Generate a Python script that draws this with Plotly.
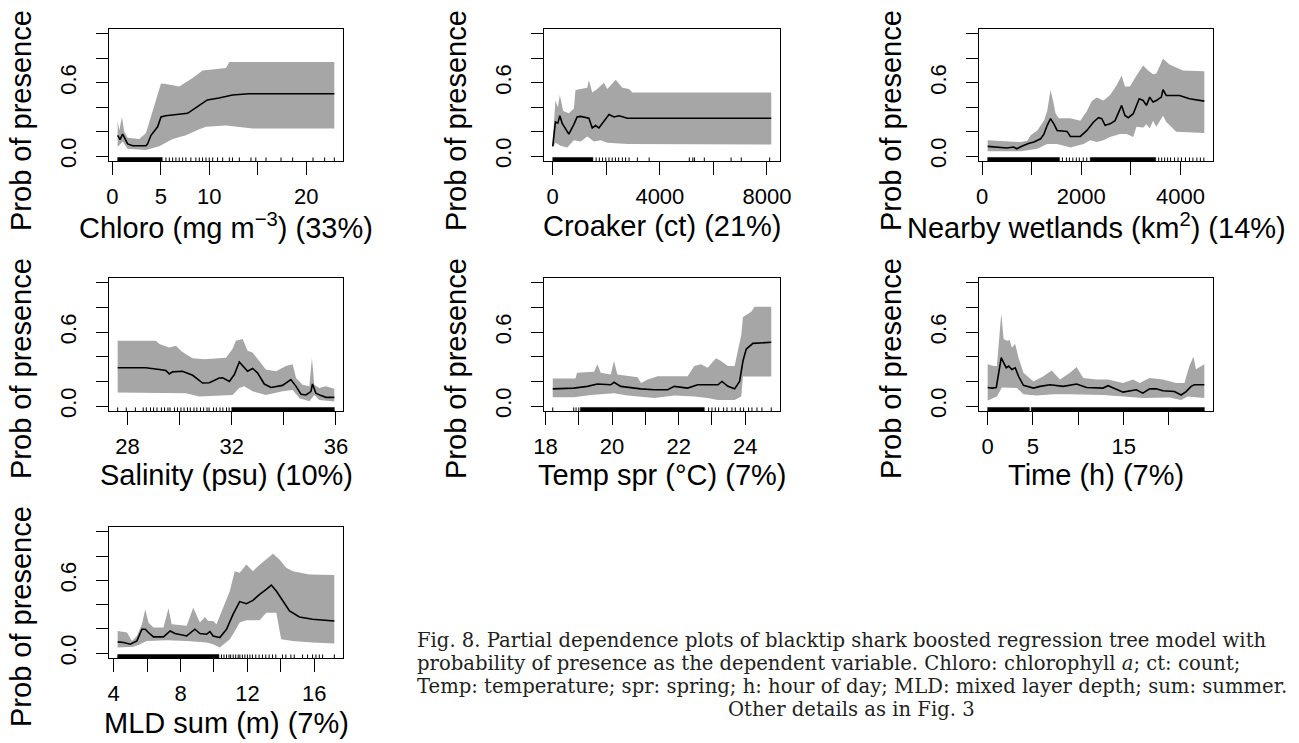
import plotly.graph_objects as go

# ---------------- data ----------------
# Chloro (mg m-3)
chloro_x = [0.55, 0.79, 1.06, 1.58, 2.1, 3.47, 3.64, 3.99, 4.67, 5.02, 5.5, 6.4, 7.76, 8.97, 9.8, 11.0, 12.4, 14.1, 22.9]
chloro_y = [0.17, 0.135, 0.18, 0.10, 0.085, 0.085, 0.10, 0.17, 0.24, 0.32, 0.33, 0.34, 0.35, 0.415, 0.46, 0.475, 0.50, 0.51, 0.51]
chloro_up_x = [0.55, 0.72, 0.99, 1.23, 1.58, 2.78, 3.47, 4.15, 5.02, 5.53, 6.9, 8.28, 9.31, 11.72, 12.07, 22.9]
chloro_up = [0.29, 0.21, 0.32, 0.20, 0.15, 0.14, 0.19, 0.36, 0.595, 0.59, 0.57, 0.64, 0.70, 0.72, 0.77, 0.77]
chloro_lo_x = [0.55, 1.06, 1.58, 3.47, 4.84, 6.22, 7.59, 8.97, 9.66, 11.72, 13.1, 14.5, 22.9]
chloro_lo = [0.074, 0.12, 0.06, 0.05, 0.08, 0.14, 0.17, 0.22, 0.24, 0.25, 0.24, 0.225, 0.225]
chloro_rug_bands = [(0.55, 5.15)]
chloro_rug = [5.53, 5.88, 6.22, 6.56, 6.9, 7.25, 7.59, 8.1, 8.62, 8.97, 9.31, 9.66, 10.0, 10.35,
              10.86, 11.38, 12.07, 12.4, 13.1, 14.3, 14.8, 15.85, 17.4, 18.6, 20.7, 21.9, 22.9]

# Croaker (ct)
croaker_x = [0, 100, 190, 265, 350, 600, 790, 910, 1040, 1350, 1475, 1600, 1725, 1910, 2100, 2290, 2475, 2790, 2975, 8160]
croaker_y = [0.08, 0.28, 0.27, 0.33, 0.27, 0.18, 0.26, 0.32, 0.325, 0.31, 0.23, 0.25, 0.23, 0.28, 0.34, 0.32, 0.33, 0.31, 0.31, 0.31]
croaker_up_x = [0, 100, 190, 265, 390, 600, 790, 850, 1290, 1350, 1475, 1662, 1912, 2037, 2350, 2600, 2850, 2975, 8160]
croaker_up = [0.13, 0.455, 0.40, 0.50, 0.37, 0.35, 0.39, 0.54, 0.56, 0.62, 0.52, 0.55, 0.60, 0.55, 0.625, 0.56, 0.55, 0.52, 0.52]
croaker_lo_x = [0, 100, 290, 540, 790, 1040, 1290, 1540, 1790, 2040, 2790, 8160]
croaker_lo = [0.07, 0.11, 0.085, 0.07, 0.13, 0.12, 0.16, 0.12, 0.13, 0.11, 0.10, 0.095]
croaker_rug_bands = [(0, 1500)]
croaker_rug = [1620, 1740, 1860, 1980, 2100, 2220, 2340, 2460, 2600, 2720, 2850, 3160, 3600,
               5100, 5230, 5290, 5660, 6660, 7040, 8100]

# Nearby wetlands (km2)
wet_x = [113, 237, 500, 633, 700, 800, 947, 1047, 1180, 1247, 1313, 1380, 1447, 1513, 1647, 1713, 1780, 1980, 2113, 2247,
         2347, 2413, 2480, 2580, 2680, 2780, 2813, 2880, 2947, 3047, 3113, 3167, 3247, 3313, 3380, 3447, 3513, 3613, 3647, 3713,
         3980, 4180, 4480]
wet_y = [0.08, 0.074, 0.066, 0.074, 0.06, 0.08, 0.106, 0.115, 0.142, 0.18, 0.252, 0.306, 0.264, 0.21, 0.202, 0.202, 0.161, 0.161, 0.21, 0.279,
         0.314, 0.306, 0.252, 0.264, 0.29, 0.374, 0.415, 0.333, 0.314, 0.347, 0.415, 0.469, 0.455, 0.415, 0.483, 0.442, 0.455, 0.483, 0.543, 0.496,
         0.496, 0.469, 0.45]
wet_up_x = [113, 313, 780, 913, 980, 1113, 1247, 1313, 1380, 1433, 1480, 1547, 1780, 1980, 2113, 2213, 2313, 2447, 2580, 2713,
            2813, 2880, 2980, 3113, 3247, 3347, 3447, 3513, 3647, 3780, 4047, 4480]
wet_up = [0.13, 0.125, 0.115, 0.125, 0.17, 0.21, 0.29, 0.37, 0.54, 0.45, 0.35, 0.31, 0.31, 0.29, 0.37, 0.45, 0.48, 0.455, 0.50, 0.58,
          0.66, 0.57, 0.57, 0.66, 0.742, 0.70, 0.67, 0.675, 0.796, 0.75, 0.70, 0.695]
wet_lo_x = [113, 780, 913, 1113, 1313, 1513, 1780, 2047, 2180, 2313, 2447, 2580, 2780, 2913, 3047, 3113, 3247, 3313, 3380, 3447,
            3513, 3647, 3713, 3913, 4480]
wet_lo = [0.04, 0.04, 0.05, 0.06, 0.10, 0.10, 0.07, 0.10, 0.13, 0.115, 0.13, 0.156, 0.18, 0.18, 0.156, 0.24, 0.235, 0.26, 0.225, 0.29,
          0.24, 0.33, 0.28, 0.20, 0.19]
wet_rug_bands = [(113, 1560), (2180, 3500)]
wet_rug = [1620, 1700, 1760, 1830, 1900, 1960, 2040, 2110, 3560, 3620, 3680, 3740, 3800, 3880, 3950,
           4020, 4100, 4180, 4250, 4330, 4400, 4470]

# Salinity (psu)
sal_x = [27.62, 28.70, 29.22, 29.47, 29.60, 29.73, 30.11, 30.50, 30.88, 31.14, 31.52, 31.65, 31.91, 32.10, 32.29, 32.48,
         32.61, 32.80, 32.99, 33.25, 33.51, 33.95, 34.27, 34.47, 34.66, 34.85, 35.04, 35.10, 35.23, 35.43, 35.62, 35.94]
sal_y = [0.311, 0.311, 0.297, 0.289, 0.261, 0.278, 0.283, 0.25, 0.187, 0.19, 0.228, 0.23, 0.20, 0.256, 0.358, 0.311,
         0.283, 0.305, 0.27, 0.179, 0.151, 0.168, 0.215, 0.16, 0.096, 0.09, 0.118, 0.179, 0.105, 0.085, 0.071, 0.071]
sal_up_x = [27.62, 29.09, 29.22, 29.60, 29.86, 30.05, 30.24, 30.50, 30.95, 31.78, 32.03, 32.16, 32.42, 32.61,
            32.80, 33.06, 33.31, 33.70, 34.08, 34.34, 34.47, 34.72, 34.98, 35.08, 35.17, 35.36, 35.62, 35.94]
sal_up = [0.531, 0.531, 0.504, 0.476, 0.49, 0.449, 0.421, 0.388, 0.38, 0.393, 0.463, 0.531, 0.545, 0.449,
          0.435, 0.366, 0.297, 0.283, 0.325, 0.339, 0.228, 0.173, 0.16, 0.393, 0.173, 0.146, 0.16, 0.14]
sal_lo_x = [27.62, 30.24, 30.75, 32.03, 32.29, 32.48, 32.80, 33.06, 33.31, 33.95, 34.34, 34.60, 34.98, 35.17, 35.36, 35.94]
sal_lo = [0.11, 0.105, 0.078, 0.09, 0.146, 0.16, 0.12, 0.105, 0.09, 0.12, 0.13, 0.063, 0.04, 0.09, 0.05, 0.037]
sal_rug_bands = [(32.0, 35.94)]
sal_rug = [27.62, 27.95, 28.3, 28.6, 28.72, 28.88, 29.0, 29.13, 29.3, 29.42, 29.55, 29.63, 29.8, 29.92, 30.05,
           30.17, 30.3, 30.41, 30.55, 30.66, 30.8, 30.92, 31.05, 31.13, 31.3, 31.41, 31.55, 31.66, 31.8, 31.9]

# Temp spr (deg C)
temp_x = [18.22, 18.85, 19.26, 19.56, 19.96, 20.06, 20.26, 20.51, 20.86, 21.27, 21.67, 21.87, 22.27, 22.57,
          23.18, 23.30, 23.48, 23.68, 23.83, 23.93, 24.03, 24.23, 24.78]
temp_y = [0.14, 0.146, 0.16, 0.179, 0.173, 0.193, 0.16, 0.151, 0.14, 0.132, 0.132, 0.16, 0.146, 0.173,
          0.173, 0.2, 0.16, 0.14, 0.2, 0.366, 0.463, 0.509, 0.518]
temp_up_x = [18.22, 18.9, 18.95, 19.46, 19.56, 19.66, 19.96, 20.06, 20.16, 20.47, 20.77, 20.87, 21.07, 21.37,
             21.87, 22.27, 22.47, 22.67, 22.87, 23.12, 23.27, 23.48, 23.68, 23.88, 23.93, 24.18, 24.28, 24.78]
temp_up = [0.223, 0.223, 0.27, 0.278, 0.339, 0.27, 0.256, 0.366, 0.256, 0.242, 0.234, 0.187, 0.215, 0.242,
           0.242, 0.242, 0.325, 0.339, 0.311, 0.388, 0.366, 0.325, 0.325, 0.58, 0.724, 0.765, 0.807, 0.807]
temp_lo_x = [18.22, 18.85, 19.36, 20.06, 20.47, 21.07, 21.27, 21.87, 22.47, 22.87, 23.17, 23.68, 23.88, 23.93, 24.28, 24.78]
temp_lo = [0.072, 0.072, 0.09, 0.105, 0.085, 0.07, 0.065, 0.085, 0.078, 0.065, 0.05, 0.05, 0.078, 0.24, 0.24, 0.24]
temp_rug_bands = [(19.05, 22.77)]
temp_rug = [18.22, 18.85, 18.92, 19.0, 22.9, 23.0, 23.1, 23.2, 23.35, 23.45, 23.6, 23.7, 23.85, 23.95,
            24.1, 24.2, 24.35, 24.5, 24.78]

# Time (h)
time_x = [0, 0.48, 0.95, 1.21, 1.5, 1.76, 2.05, 2.31, 2.67, 3.04, 3.4, 3.95, 5.05, 5.78, 6.88, 8.34, 9.81, 10.9,
          12.73, 13.28, 13.83, 14.93, 16.4, 17.12, 17.86, 18.59, 19.32, 20.05, 20.6, 21.34, 21.89, 22.44, 22.8, 23.9]
time_y = [0.151, 0.146, 0.151, 0.283, 0.393, 0.352, 0.311, 0.325, 0.297, 0.311, 0.242, 0.168, 0.146, 0.16, 0.173, 0.16, 0.179, 0.151,
          0.146, 0.165, 0.146, 0.113, 0.132, 0.105, 0.14, 0.14, 0.124, 0.118, 0.118, 0.09, 0.118, 0.16, 0.173, 0.173]
time_up_x = [0, 0.66, 1.02, 1.28, 1.5, 1.76, 2.12, 2.42, 2.67, 3.04, 3.4, 3.95, 5.05, 6.15, 7.06, 7.98,
             9.08, 9.81, 10.54, 12.0, 13.28, 14.93, 16.03, 16.76, 17.86, 19.32, 20.79, 21.7, 22.25, 22.69, 22.98, 23.9]
time_up = [0.339, 0.325, 0.325, 0.587, 0.752, 0.545, 0.531, 0.537, 0.476, 0.504, 0.393, 0.27, 0.20, 0.242, 0.289, 0.215,
           0.27, 0.317, 0.228, 0.215, 0.215, 0.187, 0.215, 0.187, 0.228, 0.215, 0.187, 0.187, 0.325, 0.40, 0.30, 0.339]
time_lo_x = [0, 1.02, 1.57, 2.49, 3.22, 3.95, 5.41, 7.24, 9.08, 12.73, 14.93, 17.12, 20.05, 21.34, 22.07, 23.9]
time_lo = [0.045, 0.078, 0.15, 0.146, 0.146, 0.097, 0.085, 0.097, 0.097, 0.09, 0.078, 0.065, 0.07, 0.05, 0.078, 0.065]
time_rug_bands = [(0, 4.6), (4.8, 23.9)]
time_rug = []

# MLD sum (m)
mld_x = [4.24, 4.6, 4.99, 5.39, 5.69, 5.89, 6.08, 6.38, 6.98, 7.18, 7.38, 7.67, 8.37, 8.86, 9.16, 9.56, 9.76, 9.95,
         10.35, 10.75, 11.14, 11.54, 11.94, 12.33, 12.73, 13.13, 13.43, 13.73, 14.12, 14.52, 15.11, 15.9, 17.2]
mld_y = [0.093, 0.088, 0.074, 0.101, 0.197, 0.197, 0.17, 0.134, 0.134, 0.156, 0.183, 0.162, 0.142, 0.197, 0.162, 0.156, 0.178, 0.142,
         0.129, 0.197, 0.32, 0.425, 0.408, 0.435, 0.485, 0.526, 0.561, 0.512, 0.435, 0.348, 0.298, 0.279, 0.265]
mld_up_x = [4.24, 4.8, 5.09, 5.39, 5.69, 5.89, 6.08, 6.38, 6.98, 7.28, 7.47, 8.37, 8.76, 9.16, 9.46, 9.66,
            9.95, 10.15, 10.35, 10.95, 11.24, 11.54, 11.94, 12.33, 12.63, 13.13, 13.53, 13.92, 14.32, 14.72, 15.71, 17.2]
mld_up = [0.183, 0.17, 0.101, 0.142, 0.238, 0.362, 0.252, 0.211, 0.211, 0.37, 0.238, 0.225, 0.375, 0.252, 0.298, 0.265,
          0.265, 0.238, 0.307, 0.512, 0.676, 0.663, 0.731, 0.676, 0.717, 0.772, 0.819, 0.772, 0.704, 0.676, 0.649, 0.644]
mld_lo_x = [4.24, 5.19, 5.59, 5.98, 7.18, 8.37, 9.56, 9.95, 10.35, 10.95, 11.14, 11.54, 11.94, 12.73, 13.13,
            13.73, 13.88, 14.02, 14.72, 15.9, 17.2]
mld_lo = [0.047, 0.052, 0.074, 0.101, 0.107, 0.101, 0.088, 0.074, 0.047, 0.115, 0.156, 0.252, 0.271, 0.271, 0.334,
          0.334, 0.225, 0.115, 0.101, 0.088, 0.079]
mld_rug_bands = [(4.24, 10.3)]
mld_rug = [10.45, 10.6, 10.75, 10.9, 11.0, 11.15, 11.3, 11.45, 11.55, 11.7, 11.85, 12.0, 12.15, 12.3, 12.5,
           12.7, 12.9, 13.1, 13.3, 13.5, 13.7, 14.1, 14.3, 14.6, 14.8, 15.3, 15.6, 15.9, 16.1, 16.3, 16.5, 17.2]

# axis titles and tick labels
x_titles = ["Chloro (mg m<sup>\u22123</sup>) (33%)", "Croaker (ct) (21%)",
            "Nearby wetlands (km<sup>2</sup>) (14%)", "Salinity (psu) (10%)",
            "Temp spr (\u00b0C) (7%)", "Time (h) (7%)", "MLD sum (m) (7%)"]
x_tickvals = [[0, 5, 10, 15, 20], [0, 2000, 4000, 6000, 8000], [0, 1000, 2000, 3000, 4000],
              [28, 30, 32, 34, 36], [18, 19, 20, 21, 22, 23, 24], [0, 5, 10, 15, 20],
              [4, 6, 8, 10, 12, 14, 16]]
x_ticktext = [["0", "5", "10", "", "20"], ["0", "", "4000", "", "8000"], ["0", "", "2000", "", "4000"],
              ["28", "", "32", "", "36"], ["18", "", "20", "", "22", "", "24"], ["0", "5", "", "15", ""],
              ["4", "", "8", "", "12", "", "16"]]
y_title = "Prob of presence"
y_tickvals = [0, 0.2, 0.4, 0.6, 0.8, 1.0]
y_ticktext = ["0.0", "", "", "0.6", "", ""]

caption_lines = [
    "Fig. 8. Partial dependence plots of blacktip shark boosted regression tree model with",
    "probability of presence as the dependent variable. Chloro: chlorophyll <i>a</i>; ct: count;",
    "Temp: temperature; spr: spring; h: hour of day; MLD: mixed layer depth; sum: summer.",
    "Other details as in Fig. 3",
]

panels = [
    (chloro_x, chloro_y, chloro_up_x, chloro_up, chloro_lo_x, chloro_lo, chloro_rug_bands, chloro_rug),
    (croaker_x, croaker_y, croaker_up_x, croaker_up, croaker_lo_x, croaker_lo, croaker_rug_bands, croaker_rug),
    (wet_x, wet_y, wet_up_x, wet_up, wet_lo_x, wet_lo, wet_rug_bands, wet_rug),
    (sal_x, sal_y, sal_up_x, sal_up, sal_lo_x, sal_lo, sal_rug_bands, sal_rug),
    (temp_x, temp_y, temp_up_x, temp_up, temp_lo_x, temp_lo, temp_rug_bands, temp_rug),
    (time_x, time_y, time_up_x, time_up, time_lo_x, time_lo, time_rug_bands, time_rug),
    (mld_x, mld_y, mld_up_x, mld_up, mld_lo_x, mld_lo, mld_rug_bands, mld_rug),
]

# ---------------- layout geometry (pixels) ----------------
W, H = 1299, 743
COL_X = [(109, 343), (544, 780), (979, 1213)]
ROW_Y = [(29, 161), (278, 411), (527, 658)]
XTITLE_Y = [226, 475, 723]
YTITLE_Y = [121, 369, 617]
YRANGE = [-0.04, 1.04]
RUG_TOP = -0.011

SANS = "Liberation Sans, Arial, sans-serif"
BAND = "#a6a6a6"


def px(x):
    return x / W


def py(y):
    return 1 - y / H


fig = go.Figure()
layout = dict(
    width=W, height=H, margin=dict(l=0, r=0, t=0, b=0, autoexpand=False),
    paper_bgcolor="white", plot_bgcolor="white", showlegend=False,
    font=dict(family=SANS, color="black"),
)
annotations = []

for i, (lx, ly, ux, uy, dx, dy, bands, rug) in enumerate(panels):
    row, col = divmod(i, 3)
    n = i + 1
    xa, ya = f"x{n}", f"y{n}"
    x0, x1 = COL_X[col]
    y0, y1 = ROW_Y[row]

    # confidence band
    fig.add_trace(go.Scatter(
        x=list(ux) + list(reversed(dx)), y=list(uy) + list(reversed(dy)),
        fill="toself", fillcolor=BAND, line=dict(width=0), mode="lines",
        hoverinfo="skip", xaxis=xa, yaxis=ya))
    # fitted partial dependence
    fig.add_trace(go.Scatter(x=lx, y=ly, mode="lines",
                             line=dict(color="black", width=1.6),
                             xaxis=xa, yaxis=ya))
    # rug: solid stretches and single ticks
    for lo, hi in bands:
        fig.add_trace(go.Scatter(
            x=[lo, hi, hi, lo, lo], y=[YRANGE[0], YRANGE[0], RUG_TOP, RUG_TOP, YRANGE[0]],
            fill="toself", fillcolor="black", line=dict(color="black", width=0.5),
            mode="lines", hoverinfo="skip", xaxis=xa, yaxis=ya))
    if rug:
        rx, ry = [], []
        for v in rug:
            rx += [v, v, None]
            ry += [YRANGE[0], RUG_TOP, None]
        fig.add_trace(go.Scatter(x=rx, y=ry, mode="lines",
                                 line=dict(color="black", width=1),
                                 hoverinfo="skip", xaxis=xa, yaxis=ya))

    lo_x, hi_x = min(lx), max(lx)
    pad = 0.04 * (hi_x - lo_x)
    axis_common = dict(showline=True, mirror=True, linecolor="black", linewidth=1.3,
                       showgrid=False, zeroline=False, ticks="outside", automargin=False,
                       tickcolor="black", tickwidth=1.3,
                       tickfont=dict(family=SANS, size=22, color="black"))
    layout[f"xaxis{n}" if n > 1 else "xaxis"] = dict(
        axis_common, domain=[px(x0), px(x1)], anchor=ya,
        range=[lo_x - pad, hi_x + pad], tickmode="array",
        tickvals=x_tickvals[i], ticktext=x_ticktext[i], ticklen=13,
        ticklabelstandoff=2)
    layout[f"yaxis{n}" if n > 1 else "yaxis"] = dict(
        axis_common, domain=[py(y1), py(y0)], anchor=xa,
        range=YRANGE, tickmode="array", tickvals=y_tickvals,
        ticktext=y_ticktext, ticklen=12, tickangle=-90,
        ticklabelstandoff=11)

    annotations.append(dict(
        text=x_titles[i], xref="paper", yref="paper",
        x=px((x0 + x1) / 2), y=py(XTITLE_Y[row]), xanchor="center", yanchor="middle",
        showarrow=False, font=dict(family=SANS, size=29, color="black")))
    annotations.append(dict(
        text=y_title, xref="paper", yref="paper", textangle=-90,
        x=px(x0 - 88), y=py(YTITLE_Y[row]), xanchor="center", yanchor="middle",
        showarrow=False, font=dict(family=SANS, size=29, color="black")))

# figure caption
SERIF = "DejaVu Serif, serif"
cap_y = [640, 663, 686, 709]
for k, line in enumerate(caption_lines):
    last = k == len(caption_lines) - 1
    annotations.append(dict(
        text=line, xref="paper", yref="paper",
        x=px(851) if last else px(415), y=py(cap_y[k]),
        xanchor="center" if last else "left", yanchor="middle",
        showarrow=False, font=dict(family=SERIF, size=19.6, color="#231f20")))

layout["annotations"] = annotations
fig.update_layout(**layout)
fig.write_html("out.html")
